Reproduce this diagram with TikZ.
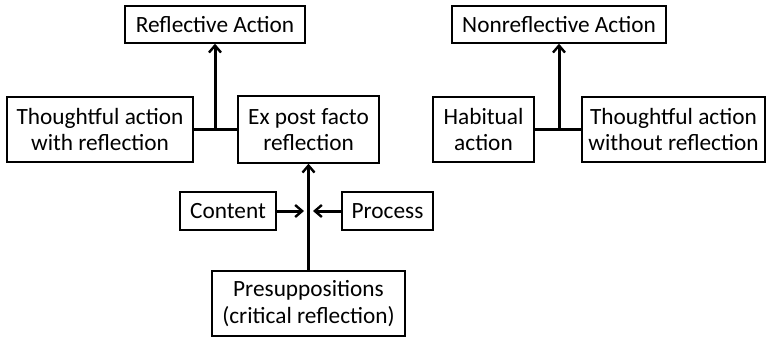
\documentclass[tikz,border=0pt]{standalone}
\usepackage{fontspec}
\setmainfont{Carlito}
\usetikzlibrary{arrows.meta}
\begin{document}
\begin{tikzpicture}[x=1pt,y=-1pt,
  box/.style={draw, line width=1.4pt, align=center, inner sep=0pt,
    font=\fontsize{23.3}{26.5}\selectfont},
  conn/.style={line width=3pt},
  arr/.style={conn, -{Straight Barb[length=7pt,width=12pt,line width=2.4pt]}}]
\useasboundingbox (0,0) rectangle (766,338);
\node[box, minimum width=180pt, minimum height=37pt] (ra) at (215,24.5) {Reflective Action};
\node[box, minimum width=186pt, minimum height=65pt] (ta) at (100,129.5) {Thoughtful action\\with reflection};
\node[box, minimum width=141pt, minimum height=67pt] (ep) at (308.5,129.5) {Ex post facto\\reflection};
\node[box, minimum width=96pt, minimum height=38pt] (co) at (228,211) {Content};
\node[box, minimum width=91pt, minimum height=38pt] (pr) at (387.5,211) {Process};
\node[box, minimum width=193pt, minimum height=65pt] (pre) at (308.5,303.5) {Presuppositions\\(critical reflection)};
\node[box, minimum width=214pt, minimum height=37pt] (na) at (559,24.5) {Nonreflective Action};
\node[box, minimum width=101pt, minimum height=65pt] (hab) at (483.5,129.5) {Habitual\\action};
\node[box, minimum width=183pt, minimum height=65pt] (tw) at (673.5,129.5) {Thoughtful action\\without reflection};
\coordinate (cl) at (304,211);
\coordinate (cr) at (313,211);
\draw[conn] (ta.east) -- (ep.west);
\draw[arr] (ra.south |- ta.east) -- (ra.south);
\draw[arr] (pre.north) -- (ep.south);
\draw[arr] (co.east) -- (cl);
\draw[arr] (pr.west) -- (cr);
\draw[conn] (hab.east) -- (tw.west);
\draw[arr] (na.south |- hab.east) -- (na.south);
\end{tikzpicture}
\end{document}
